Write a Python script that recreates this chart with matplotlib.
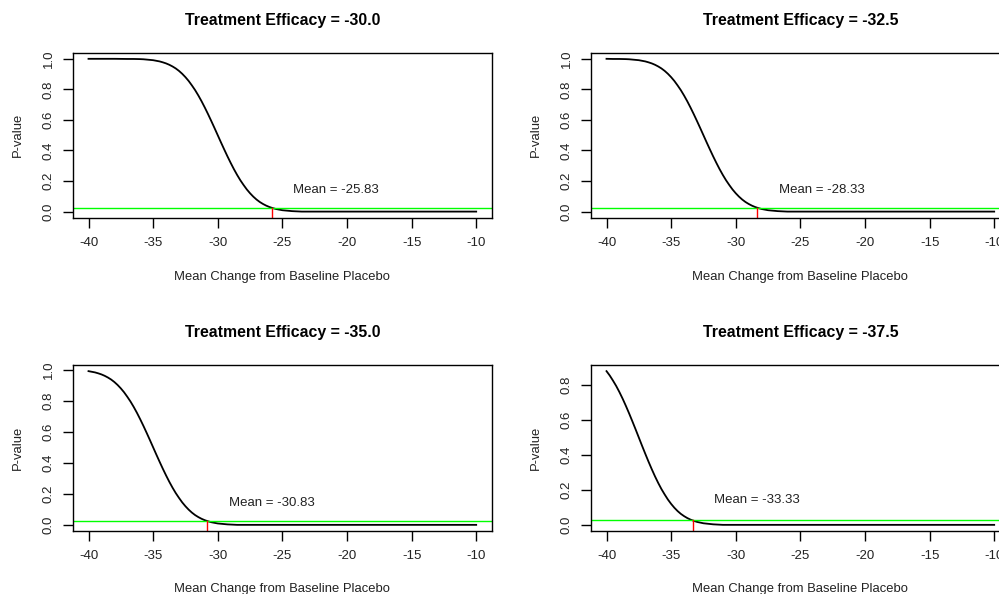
import matplotlib
matplotlib.use("Agg")
import matplotlib.pyplot as plt

plt.rcParams['font.family'] = ['Liberation Sans', 'DejaVu Sans']

W, H = 999, 594

# ---- data ----
efficacies = [-30.0, -32.5, -35.0, -37.5]
means = [-25.83, -28.33, -30.83, -33.33]
alpha_line = 0.025

x_p1 = [-40, -39, -38, -37, -36.5,
        -36, -35.75, -35.5, -35.25, -35, -34.75, -34.5, -34.25, -34, -33.75, -33.5, -33.25,
        -33, -32.75, -32.5, -32.25, -32, -31.75, -31.5, -31.25, -31, -30.75, -30.5, -30.25,
        -30, -29.75, -29.5, -29.25, -29, -28.75, -28.5, -28.25, -28, -27.75, -27.5, -27.25,
        -27, -26.75, -26.5, -26.25, -26, -25.75, -25.5, -25.25, -25, -24.75, -24.5, -24.25,
        -24, -23.5, -10]
p_p1 = [1.0, 1.0, 1.0, 0.999, 0.999,
        0.998, 0.997, 0.995, 0.993, 0.991, 0.987, 0.983, 0.977, 0.970, 0.961, 0.950, 0.937,
        0.921, 0.902, 0.880, 0.855, 0.826, 0.795, 0.760, 0.722, 0.681, 0.638, 0.593, 0.547,
        0.500, 0.453, 0.407, 0.362, 0.319, 0.278, 0.240, 0.205, 0.174, 0.145, 0.120, 0.098,
        0.079, 0.063, 0.050, 0.039, 0.030, 0.023, 0.017, 0.013, 0.009, 0.007, 0.005, 0.003,
        0.002, 0.0, 0.0]

x_p2 = [-40, -39.5, -39,
        -38.5, -38.25, -38, -37.75, -37.5, -37.25, -37, -36.75, -36.5, -36.25, -36, -35.75,
        -35.5, -35.25, -35, -34.75, -34.5, -34.25, -34, -33.75, -33.5, -33.25, -33, -32.75,
        -32.5, -32.25, -32, -31.75, -31.5, -31.25, -31, -30.75, -30.5, -30.25, -30, -29.75,
        -29.5, -29.25, -29, -28.75, -28.5, -28.25, -28, -27.75, -27.5, -27.25, -27, -26.75,
        -26.5, -26, -10]
p_p2 = [1.0, 0.999, 0.999,
        0.998, 0.997, 0.995, 0.993, 0.991, 0.987, 0.983, 0.977, 0.970, 0.961, 0.950, 0.937,
        0.921, 0.902, 0.880, 0.855, 0.826, 0.795, 0.760, 0.722, 0.681, 0.638, 0.593, 0.547,
        0.500, 0.453, 0.407, 0.362, 0.319, 0.278, 0.240, 0.205, 0.174, 0.145, 0.120, 0.098,
        0.079, 0.063, 0.050, 0.039, 0.030, 0.023, 0.017, 0.013, 0.009, 0.007, 0.005, 0.003,
        0.002, 0.0, 0.0]

x_p3 = [-40, -39.75, -39.5, -39.25, -39, -38.75, -38.5, -38.25, -38, -37.75, -37.5, -37.25,
        -37, -36.75, -36.5, -36.25, -36, -35.75, -35.5, -35.25, -35, -34.75, -34.5, -34.25,
        -34, -33.75, -33.5, -33.25, -33, -32.75, -32.5, -32.25, -32, -31.75, -31.5, -31.25,
        -31, -30.75, -30.5, -30.25, -30, -29.75, -29.5, -29.25, -29, -28.5, -10]
p_p3 = [0.991, 0.987, 0.983, 0.977, 0.970, 0.961, 0.950, 0.937,
        0.921, 0.902, 0.880, 0.855, 0.826, 0.795, 0.760, 0.722, 0.681, 0.638, 0.593, 0.547,
        0.500, 0.453, 0.407, 0.362, 0.319, 0.278, 0.240, 0.205, 0.174, 0.145, 0.120, 0.098,
        0.079, 0.063, 0.050, 0.039, 0.030, 0.023, 0.017, 0.013, 0.009, 0.007, 0.005, 0.003,
        0.002, 0.0, 0.0]

x_p4 = [-40, -39.75, -39.5, -39.25, -39, -38.75, -38.5, -38.25, -38, -37.75, -37.5, -37.25,
        -37, -36.75, -36.5, -36.25, -36, -35.75, -35.5, -35.25, -35, -34.75, -34.5, -34.25,
        -34, -33.75, -33.5, -33.25, -33, -32.75, -32.5, -32.25, -32, -31.75, -31.5, -31, -10]
p_p4 = [0.880, 0.855, 0.826, 0.795, 0.760, 0.722, 0.681, 0.638, 0.593, 0.547,
        0.500, 0.453, 0.407, 0.362, 0.319, 0.278, 0.240, 0.205, 0.174, 0.145, 0.120, 0.098,
        0.079, 0.063, 0.050, 0.039, 0.030, 0.023, 0.017, 0.013, 0.009, 0.007, 0.005, 0.003,
        0.002, 0.0, 0.0]

xs = [x_p1, x_p2, x_p3, x_p4]
ps = [p_p1, p_p2, p_p3, p_p4]

x_ticks = [-40, -35, -30, -25, -20, -15, -10]
x_tick_labels = ['-40', '-35', '-30', '-25', '-20', '-15', '-10']
y_ticks_all = [0.0, 0.2, 0.4, 0.6, 0.8, 1.0]

# ---- layout (pixels) ----
boxes = [  # left, top, width, height
    (73, 52.7, 418.7, 165),
    (591, 52.7, 418.7, 165),
    (73, 365, 418.7, 166),
    (591, 365, 418.7, 166),
]

fig = plt.figure(figsize=(W / 100, H / 100), dpi=100)
txt_col = '#222222'

for i in range(4):
    l, t, w, h = boxes[i]
    ax = fig.add_axes([l / W, (H - t - h) / H, w / W, h / H])
    x, p = xs[i], ps[i]
    ax.plot(x, p, color='black', lw=1.3)
    xmin, xmax = min(x), max(x)
    ymin, ymax = min(p), max(p)
    xr, yr = xmax - xmin, ymax - ymin
    y_lo, y_hi = ymin - 0.04 * yr, ymax + 0.04 * yr
    ax.set_xlim(xmin - 0.04 * xr, xmax + 0.04 * xr)
    ax.set_ylim(y_lo, y_hi)
    ax.axhline(alpha_line, color='#00FF00', lw=1.0)
    ax.plot([means[i], means[i]], [y_lo, alpha_line], color='#FF0000', lw=1.0)
    ax.text(means[i] + 5, 0.14, f"Mean = {means[i]:.2f}", ha='center', va='center',
            fontsize=9.5, color=txt_col)
    ax.set_xticks(x_ticks)
    ax.set_xticklabels(x_tick_labels)
    yt = [v for v in y_ticks_all if y_lo <= v <= y_hi]
    ax.set_yticks(yt)
    ax.set_yticklabels([f"{v:.1f}" for v in yt], rotation=90, va='center')
    ax.tick_params(axis='both', direction='out', length=7, width=1, labelsize=9.5,
                   colors='black', labelcolor=txt_col)
    ax.tick_params(axis='x', pad=7)
    ax.tick_params(axis='y', pad=6)
    for s in ax.spines.values():
        s.set_linewidth(1.0)
        s.set_color('black')
    cx = l + w / 2
    fig.text(cx / W, 1 - (t - 32.5) / H, f"Treatment Efficacy = {efficacies[i]:.1f}",
             fontsize=11.4, fontweight='bold', ha='center', va='center')
    fig.text(cx / W, 1 - (t + 224) / H, "Mean Change from Baseline Placebo",
             fontsize=9.4, ha='center', va='center', color=txt_col)
    fig.text((l - 55) / W, 1 - (t + h / 2) / H, "P-value", fontsize=9.4, rotation=90,
             ha='center', va='center', color=txt_col)

fig.savefig("out.png", dpi=100)
